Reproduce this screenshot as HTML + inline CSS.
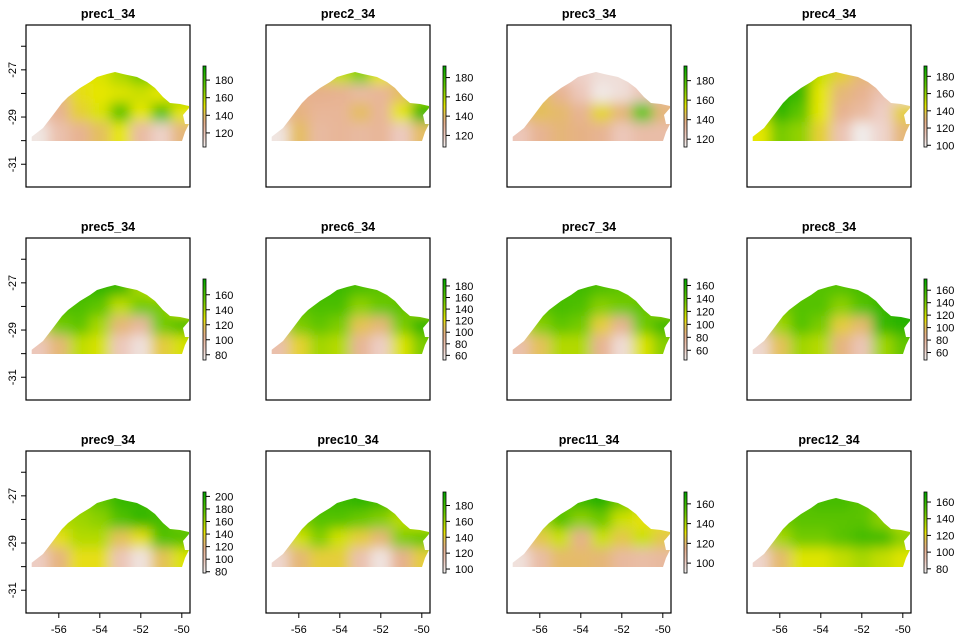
<!DOCTYPE html>
<html><head><meta charset="utf-8">
<style>
html,body{margin:0;padding:0;background:#fff;}
svg{display:block;font-family:"Liberation Sans",Arial,sans-serif;}
</style></head>
<body>
<svg id="chart" width="960" height="639" viewBox="0 0 960 639">
<defs>
<filter id="blur" x="-20%" y="-20%" width="140%" height="140%"><feGaussianBlur stdDeviation="6"/></filter>
<clipPath id="shape" clipPathUnits="userSpaceOnUse">
<polygon points="5.7,116 5.7,111.7 17,103 27,90 36,78 42,72 54,63 64,57 71,52 81,49 89,47 97,49 111,52 121,57 129,63 137,72 144,78 154,79 163,81 163,83 157,90 159,99 163,99 159,107 156,116"/>
</clipPath>
</defs>
</svg>
<script>
const titles=["prec1_34","prec2_34","prec3_34","prec4_34","prec5_34","prec6_34","prec7_34","prec8_34","prec9_34","prec10_34","prec11_34","prec12_34"];
const zmin=[104,108,112,98,73,52,45,48,78,95,90,75];
const zmax=[196,192,195,192,181,192,170,178,207,197,172,172];
const legendTicks=[[120,140,160,180],[120,140,160,180],[120,140,160,180],[100,120,140,160,180],[80,100,120,140,160],[60,80,100,120,140,160,180],[60,80,100,120,140,160],[60,80,100,120,140,160],[80,100,120,140,160,180,200],[100,120,140,160,180],[100,120,140,160],[80,100,120,140,160]];
const gridLon=[-57,-56,-55,-54,-53,-52,-51,-50];
const gridLat=[-27.2,-28.0,-28.8,-29.6];
const xTicks=[-56,-54,-52,-50];
const yTicks=[-26,-27,-28,-29,-30,-31];
const yLabels=[-27,-29,-31];
const v1=[[140,145,150,152,160,170,165,150],[125,135,148,150,152,155,150,165],[120,130,145,152,175,150,175,150],[108,122,130,140,150,125,115,135]];
const v2=[[135,138,145,155,165,150,140,140],[128,132,133,132,128,130,140,160],[128,135,130,130,140,130,150,180],[112,140,128,130,128,130,120,140]];
const v3=[[130,130,125,122,118,118,125,130],[140,145,135,125,115,118,125,130],[140,145,142,135,150,140,175,140],[125,135,140,138,135,125,130,130]];
const v4=[[160,175,175,150,140,130,130,120],[170,185,178,145,130,125,115,105],[155,180,170,145,125,120,110,140],[145,165,160,140,115,100,108,130]];
const v5=[[160,165,165,168,165,140,130,120],[150,160,160,155,135,150,150,130],[120,150,155,140,110,100,150,160],[90,110,135,130,90,80,120,130]];
const v6=[[165,170,172,170,165,160,150,140],[150,160,165,165,145,155,160,140],[110,150,158,150,110,100,150,175],[80,115,140,135,90,70,125,150]];
const v7=[[140,145,148,150,145,140,130,120],[130,140,148,145,130,135,140,125],[100,130,140,135,100,80,135,150],[70,95,120,120,80,55,110,130]];
const v8=[[145,150,150,150,150,155,155,150],[130,140,150,150,135,150,160,165],[90,130,150,140,105,95,160,165],[60,100,130,125,90,70,130,145]];
const v9=[[150,160,165,175,190,190,180,170],[130,155,160,165,180,190,185,170],[120,140,155,155,130,140,180,180],[95,120,140,140,100,85,130,145]];
const v10=[[170,175,180,182,185,180,170,160],[150,165,175,175,170,165,155,150],[130,150,165,150,140,130,165,170],[105,130,140,140,115,100,125,140]];
const v11=[[140,145,150,160,165,150,140,135],[125,140,155,145,150,135,130,130],[110,125,135,115,135,125,135,125],[95,108,120,120,118,110,108,110]];
const v12=[[140,145,150,155,155,150,145,140],[130,145,150,150,150,150,140,130],[110,135,145,145,150,155,155,140],[85,110,125,125,130,135,130,125]];
const values=[v1,v2,v3,v4,v5,v6,v7,v8,v9,v10,v11,v12];

const NS="http://www.w3.org/2000/svg";
const svg=document.getElementById('chart');
const colX=[26,266,507,747], rowY=[25,238,451], BW=164, BH=162;
const xs=lon=>(lon+57.6)*20.5;
const ys=lat=>(-lat-25.1)*23.6;
const stops=[[0,[242,242,242]],[0.15,[236,200,188]],[0.3,[230,176,140]],[0.42,[228,196,80]],[0.5,[230,230,0]],[0.75,[99,198,0]],[1,[0,166,0]]];
function col(t){t=Math.max(0,Math.min(1,t));for(let i=1;i<stops.length;i++){if(t<=stops[i][0]){const a=stops[i-1],b=stops[i];const f=(t-a[0])/(b[0]-a[0]);const c=a[1].map((v,k)=>Math.round(v+(b[1][k]-v)*f));return `rgb(${c[0]},${c[1]},${c[2]})`;}}return 'rgb(0,166,0)';}
function el(tag,attrs,parent){const e=document.createElementNS(NS,tag);for(const k in attrs)e.setAttribute(k,attrs[k]);(parent||svg).appendChild(e);return e;}

for(let p=0;p<12;p++){
  const ci=p%4, ri=Math.floor(p/4);
  const g=el('g',{transform:`translate(${colX[ci]},${rowY[ri]})`});
  
  
  const t=el('text',{x:BW/2,y:-7,'text-anchor':'middle','font-size':'12.5','font-weight':'bold',fill:'#000'},g);
  t.textContent=titles[p];
  
  
  const clipG=el('g',{'clip-path':'url(#shape)'},g);
  
  
  const bl=el('g',{filter:'url(#blur)'},clipG);
  const V=values[p];
  for(let r=0;r<gridLat.length;r++){for(let c=0;c<gridLon.length;c++){
    let x0=xs(gridLon[c]-0.5),x1=xs(gridLon[c]+0.5),y0=ys(gridLat[r]+0.4),y1=ys(gridLat[r]-0.4);
    if(c==0)x0-=25; if(c==gridLon.length-1)x1+=25; if(r==0)y0-=25; if(r==gridLat.length-1)y1+=25;
    const cell=el('rect',{x:x0,y:y0,width:x1-x0+0.5,height:y1-y0+0.5,fill:col((V[r][c]-zmin[p])/(zmax[p]-zmin[p]))},bl);
    
    
  }}
  const box=el('rect',{x:0,y:0,width:BW,height:BH,fill:'none',stroke:'#000','stroke-width':1.2},g);
  
  
  const lg=el('g',{},g);
  
  
  const gid='lg'+p;
  const grad=el('linearGradient',{id:gid,x1:0,y1:1,x2:0,y2:0},lg);
  for(let i=0;i<=20;i++){el('stop',{offset:i/20,'stop-color':col(i/20)},grad);}
  const LX=177,LT=41,LB=122;
  el('rect',{x:LX,y:LT,width:3,height:LB-LT,fill:`url(#${gid})`,stroke:'#000','stroke-width':0.8},lg);
  const ly=v=>LB-(v-zmin[p])/(zmax[p]-zmin[p])*(LB-LT);
  legendTicks[p].forEach(v=>{
    el('line',{x1:LX+3,x2:LX+7,y1:ly(v),y2:ly(v),stroke:'#000','stroke-width':1},lg);
    const tx=el('text',{x:LX+12,y:ly(v)+4,'font-size':'11',fill:'#000'},lg);
    tx.textContent=v;
    
    
  });
  if(ci==0){
    yTicks.forEach(v=>{el('line',{x1:-5,x2:0,y1:ys(v),y2:ys(v),stroke:'#000'},g);});
    yLabels.forEach(v=>{
      const yt=el('text',{x:0,y:0,transform:`translate(-10,${ys(v)}) rotate(-90)`,'text-anchor':'middle','font-size':'11',fill:'#000'},g);
      yt.textContent=v;
      
      
    });
  }
  if(ri==2){
    xTicks.forEach(v=>{
      el('line',{x1:xs(v),x2:xs(v),y1:BH,y2:BH+5,stroke:'#000'},g);
      const xt=el('text',{x:xs(v),y:BH+20,'text-anchor':'middle','font-size':'11',fill:'#000'},g);
      xt.textContent=v;
      
      
    });
  }
}
</script>
</body></html>
